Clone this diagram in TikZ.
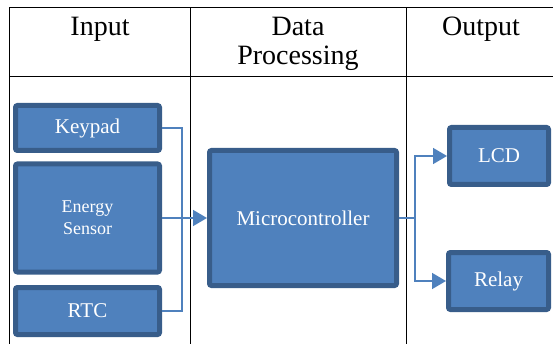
\documentclass[tikz,border=0pt]{standalone}
\usepackage{fontspec}
\setmainfont{Liberation Serif}
\usetikzlibrary{arrows.meta, positioning, calc}
\definecolor{blkfill} {RGB}{79, 129, 189}
\definecolor{blkedge} {RGB}{56,  93, 138}
\definecolor{lnkblue} {RGB}{79, 129, 189}

\begin{document}
\begin{tikzpicture}[x=1pt,y=-1pt,
	blk/.style={draw=blkedge, line width=5pt, fill=blkfill, rounded corners=2pt,
		text=white, inner sep=0pt, align=center, font=\fontsize{21}{24}\selectfont},
	link/.style={draw=lnkblue, line width=1.6pt},
	flow/.style={link, -{Triangle[length=14pt,width=16pt]}},
	head/.style={anchor=north, inner sep=0pt, align=center, font=\fontsize{28}{29}\selectfont}
]
	\useasboundingbox (0,0) rectangle (553,344);
	% table lines
	\draw[line width=1pt] (9,344)--(9,8)--(553,8);
	\draw[line width=1pt] (9,77)--(553,77);
	\draw[line width=1pt] (190,8)--(190,344);
	\draw[line width=1pt] (406,8)--(406,344);
	\node[head] (hin)  at (100,17) {Input};
	\node[head] (hdp)  at (298,17) {Data\\Processing};
	\node[head] (hout) at (481,17) {Output};
	% blocks
	\node[blk, minimum width=144pt, minimum height=45pt]  (kp)  at (87.5,128)  {Keypad};
	\node[blk, minimum width=144pt, minimum height=108pt, font=\fontsize{18}{22}\selectfont]
		(es) at (87.5,218) {Energy\\Sensor};
	\node[blk, minimum width=144pt, minimum height=47pt]  (rtc) at (87.5,311)  {RTC};
	\node[blk, minimum width=187pt, minimum height=135pt] (mc)  at (303,218)   {Microcontroller};
	\node[blk, minimum width=99pt,  minimum height=57pt]  (lcd) at (499,156)   {LCD};
	\node[blk, minimum width=100pt, minimum height=57pt]  (rly) at (498.5,281) {Relay};
	% connectors
	\coordinate (jin)  at (182,218);
	\coordinate (jout) at (415,218);
	\draw[link] (kp.east) -| (jin) |- (rtc.east);
	\draw[flow] (es.east) -- (mc.west);
	\draw[link] (mc.east) -- (jout);
	\draw[flow] (jout) |- (lcd.west);
	\draw[flow] (jout) |- (rly.west);
\end{tikzpicture}
\end{document}
